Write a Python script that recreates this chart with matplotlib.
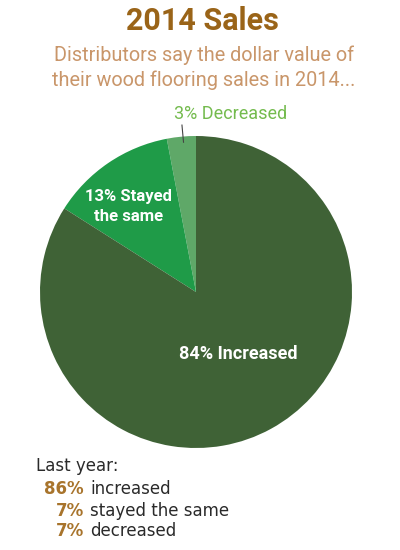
import matplotlib
matplotlib.use("Agg")
import matplotlib.pyplot as plt

# 2014 survey shares
labels = ["3% Decreased", "13% Stayed\nthe same", "84% Increased"]
values = [3, 13, 84]
colors = ["#5fa868", "#1f9b48", "#3f6236"]

# last year summary
last_pct = ["86%", "7%", "7%"]
last_txt = ["increased", "stayed the same", "decreased"]

narrow = ["Roboto", "DejaVu Sans"]

W, H = 400, 550
fig = plt.figure(figsize=(W / 100, H / 100), dpi=100)
fig.patch.set_facecolor("white")


def fx(px):
    return px / W


def fy(py):
    return 1 - py / H


fig.text(fx(202), fy(21), "2014 Sales", ha="center", va="center",
         fontsize=22, fontweight="bold", color="#9a6418", family=narrow)
fig.text(fx(204), fy(55), "Distributors say the dollar value of",
         ha="center", va="center", fontsize=14.3, color="#c9966a", family=narrow)
fig.text(fx(204), fy(80), "their wood flooring sales in 2014...",
         ha="center", va="center", fontsize=14.3, color="#c9966a", family=narrow)

# pie
cx, cy, r = 196, 292, 156
ax = fig.add_axes([fx(cx - r), fy(cy + r), 2 * r / W, 2 * r / H])
ax.pie(values, colors=colors, startangle=90, counterclock=True,
       wedgeprops=dict(linewidth=0))
ax.set_xlim(-1, 1)
ax.set_ylim(-1, 1)
ax.axis("off")

ax.text(0.22, 1.14, labels[0], ha="center", va="center", fontsize=13,
        color="#74bb4e", family=narrow, clip_on=False)
ax.plot([-0.09, -0.08], [1.07, 0.96], color="#444444", lw=0.8, clip_on=False)
ax.text(-0.43, 0.55, labels[1], ha="center", va="center", fontsize=12,
        color="white", fontweight="bold", family=narrow, linespacing=1.45)
ax.text(0.27, -0.40, labels[2], ha="center", va="center", fontsize=13,
        color="white", fontweight="bold", family=narrow)

# last year block
fig.text(fx(36), fy(466), "Last year:", ha="left", va="center",
         fontsize=12, color="#2a2a2a")
ys = [489, 511, 531]
for p, t, y in zip(last_pct, last_txt, ys):
    fig.text(fx(84), fy(y), p, ha="right", va="center", fontsize=12,
             fontweight="bold", color="#a8742c")
    fig.text(fx(90), fy(y), t, ha="left", va="center", fontsize=12,
             color="#2a2a2a")

fig.savefig("out.png", dpi=100, facecolor="white")
